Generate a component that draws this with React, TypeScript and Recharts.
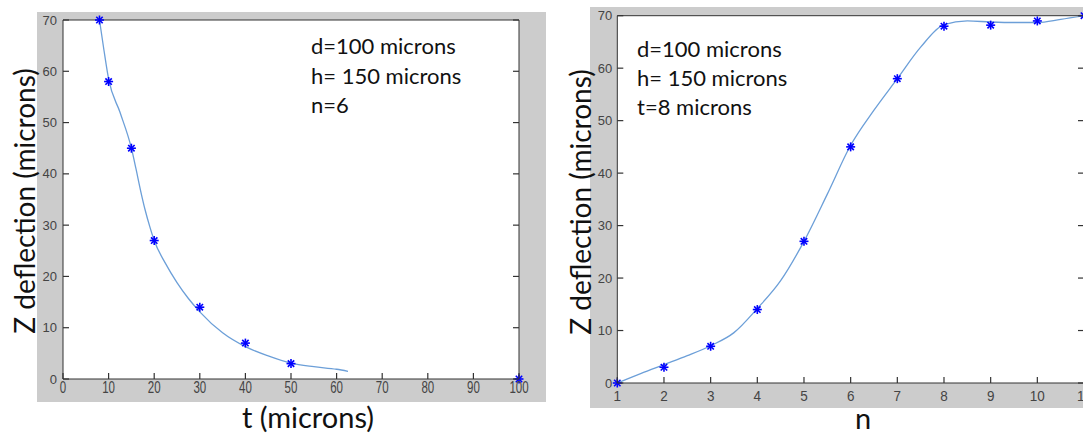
import { ComposedChart, Line, Scatter, XAxis, YAxis, CartesianGrid } from 'recharts'

// left panel: deflection vs membrane thickness t
const thicknessT = [8, 10, 15, 20, 30, 40, 50, 100]
const deflectionT = [70, 58, 45, 27, 14, 7, 3, 0]
const fitT = [8, 9, 10, 12.5, 15, 16, 17, 18, 19, 20, 22.5, 25, 27.5, 30, 35, 40, 45, 50, 55, 60, 62.5]
const fitDeflT = [70, 64, 58.5, 52, 45, 41, 36.8, 33, 29.8, 27, 22.5, 18.8, 15.7, 13.1, 9, 6.3, 4.5, 3.1, 2.4, 1.9, 1.5]
const ticksT = [0, 10, 20, 30, 40, 50, 60, 70, 80, 90, 100]

// right panel: deflection vs number of turns n
const turnsN = [1, 2, 3, 4, 5, 6, 7, 8, 9, 10, 11]
const deflectionN = [0, 3, 7, 14, 27, 45, 58, 68, 68.2, 69, 70]
const splineN = [1, 1.5, 2, 2.5, 3, 3.5, 4, 4.5, 5, 5.5, 6, 6.5, 7, 7.5, 8, 8.5, 9, 9.5, 10, 10.5, 11]
const splineDeflN = [0, 1.8, 3.5, 5.2, 7.1, 9.6, 14.2, 19.5, 27, 36, 45.3, 52, 58, 64, 68.3, 69, 68.8, 68.7, 68.7, 69.3, 70]

const ticksZ = [0, 10, 20, 30, 40, 50, 60, 70]

const FIG_GRAY = '#cccccc'
const AXIS = '#333333'
const FIT_BLUE = '#6c9fd8'
const MARK_BLUE = '#0000ff'
const TICK_FONT = '"Liberation Sans", Arial, sans-serif'
const LABEL_FONT = 'Lato, "Open Sans", sans-serif'
const TICK_LEN = 6

const pairs = (xs: number[], ys: number[]) => xs.map((x, i) => ({ x, y: ys[i] }))

function Asterisk(props: any) {
  const { cx, cy } = props
  if (cx == null || cy == null) return null
  const r = 4.5
  const d = 3.2
  return (
    <g stroke={MARK_BLUE} strokeWidth={1.6}>
      <line x1={cx - r} y1={cy} x2={cx + r} y2={cy} />
      <line x1={cx} y1={cy - r} x2={cx} y2={cy + r} />
      <line x1={cx - d} y1={cy - d} x2={cx + d} y2={cy + d} />
      <line x1={cx - d} y1={cy + d} x2={cx + d} y2={cy - d} />
    </g>
  )
}

// bottom ticks: inward mark plus label below the axis
function bottomTick(fontSize: number, scaleX: number, margin: number) {
  return (props: any) => {
    const { x, y, payload } = props
    const axisY = y - margin
    return (
      <g>
        <line x1={x} y1={axisY} x2={x} y2={axisY - TICK_LEN} stroke={AXIS} strokeWidth={1.2} />
        <text
          transform={`translate(${x},${y}) scale(${scaleX},1)`}
          textAnchor="middle"
          dy="0.71em"
          fontSize={fontSize}
          fill="#444"
          fontFamily={TICK_FONT}
        >
          {payload.value}
        </text>
      </g>
    )
  }
}

function leftTick(margin: number) {
  return (props: any) => {
    const { x, y, payload } = props
    const axisX = x + margin
    return (
      <g>
        <line x1={axisX} y1={y} x2={axisX + TICK_LEN} y2={y} stroke={AXIS} strokeWidth={1.2} />
        <text x={x} y={y} textAnchor="end" dy="0.355em" fontSize={13} fill="#444" fontFamily={TICK_FONT}>
          {payload.value}
        </text>
      </g>
    )
  }
}

const topTick = (props: any) => (
  <line x1={props.x} y1={props.y} x2={props.x} y2={props.y + TICK_LEN} stroke={AXIS} strokeWidth={1.2} />
)

const rightTick = (props: any) => (
  <line x1={props.x} y1={props.y} x2={props.x - TICK_LEN} y2={props.y} stroke={AXIS} strokeWidth={1.2} />
)

interface PanelProps {
  width: number
  margin: { top: number; right: number; bottom: number; left: number }
  xDomain: [number, number]
  xTicks: number[]
  markers: { x: number; y: number }[]
  fit: { x: number; y: number }[]
  xTickFont: number
  xTickScale: number
  xTickMargin: number
  yTickMargin: number
}

function Panel(p: PanelProps) {
  return (
    <ComposedChart width={p.width} height={436} margin={p.margin}>
      <CartesianGrid fill="#ffffff" horizontal={false} vertical={false} />
      <XAxis
        dataKey="x"
        type="number"
        domain={p.xDomain}
        ticks={p.xTicks}
        height={20}
        tickLine={false}
        tickSize={0}
        tickMargin={p.xTickMargin}
        stroke={AXIS}
        tick={bottomTick(p.xTickFont, p.xTickScale, p.xTickMargin)}
      />
      <XAxis
        xAxisId="top"
        orientation="top"
        type="number"
        domain={p.xDomain}
        allowDataOverflow
        ticks={p.xTicks}
        height={1}
        tickLine={false}
        tickSize={0}
        tickMargin={0}
        stroke={AXIS}
        tick={topTick}
      />
      <YAxis
        dataKey="y"
        type="number"
        domain={[0, 70]}
        ticks={ticksZ}
        width={30}
        tickLine={false}
        tickSize={0}
        tickMargin={p.yTickMargin}
        stroke={AXIS}
        tick={leftTick(p.yTickMargin)}
      />
      <YAxis
        yAxisId="right"
        orientation="right"
        type="number"
        domain={[0, 70]}
        allowDataOverflow
        ticks={ticksZ}
        width={1}
        tickLine={false}
        tickSize={0}
        tickMargin={0}
        stroke={AXIS}
        tick={rightTick}
      />
      <Line
        data={p.fit}
        dataKey="y"
        type="monotone"
        stroke={FIT_BLUE}
        strokeWidth={1.3}
        dot={false}
        isAnimationActive={false}
      />
      <Scatter data={p.markers} shape={<Asterisk />} isAnimationActive={false} />
    </ComposedChart>
  )
}

export default function App() {
  return (
    <div
      style={{
        position: 'absolute',
        left: 0,
        top: 0,
        width: 1083,
        height: 436,
        overflow: 'hidden',
        background: '#ffffff',
      }}
    >
      {/* figure backgrounds */}
      <div style={{ position: 'absolute', left: 37, top: 12, width: 509, height: 390, background: FIG_GRAY }} />
      <div style={{ position: 'absolute', left: 590, top: 7, width: 520, height: 401, background: FIG_GRAY }} />

      <div style={{ position: 'absolute', left: 0, top: 0 }}>
        <Panel
          width={546}
          margin={{ top: 19, right: 26, bottom: 37, left: 33 }}
          xDomain={[0, 100]}
          xTicks={ticksT}
          markers={pairs(thicknessT, deflectionT)}
          fit={pairs(fitT, fitDeflT)}
          xTickFont={16}
          xTickScale={0.72}
          xTickMargin={3}
          yTickMargin={6}
        />
      </div>
      <div style={{ position: 'absolute', left: 540, top: 0 }}>
        <Panel
          width={560}
          margin={{ top: 14.7, right: 15, bottom: 33, left: 47.3 }}
          xDomain={[1, 11]}
          xTicks={turnsN}
          markers={pairs(turnsN, deflectionN)}
          fit={pairs(splineN, splineDeflN)}
          xTickFont={15}
          xTickScale={0.9}
          xTickMargin={7}
          yTickMargin={5}
        />
      </div>

      {/* axis titles and notes */}
      <svg
        width={1083}
        height={436}
        style={{ position: 'absolute', left: 0, top: 0, pointerEvents: 'none' }}
        fontFamily={LABEL_FONT}
        fill="#111"
      >
        <text transform="translate(24,201) rotate(-90)" textAnchor="middle" dominantBaseline="central" fontSize={28}>
          Z deflection (microns)
        </text>
        <text x={308} y={428} textAnchor="middle" fontSize={29}>
          t (microns)
        </text>
        <text transform="translate(580,202) rotate(-90)" textAnchor="middle" dominantBaseline="central" fontSize={28}>
          Z deflection (microns)
        </text>
        <text x={863} y={429} textAnchor="middle" fontSize={29}>
          n
        </text>

        <g fontSize={22}>
          <text x={311} y={54}>d=100 microns</text>
          <text x={311} y={84}>h= 150 microns</text>
          <text x={311} y={113}>n=6</text>
          <text x={637} y={57}>d=100 microns</text>
          <text x={637} y={86}>h= 150 microns</text>
          <text x={637} y={115}>t=8 microns</text>
        </g>
      </svg>
    </div>
  )
}
